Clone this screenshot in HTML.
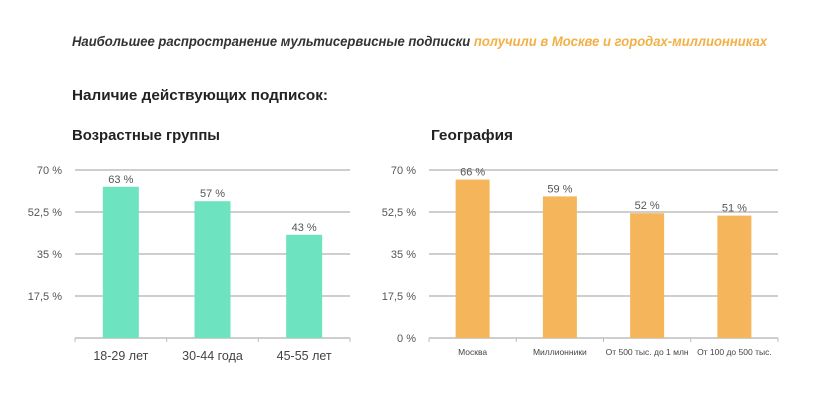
<!DOCTYPE html>
<html><head><meta charset="utf-8"><style>
body{margin:0;background:#fff;}
svg{display:block;font-family:"Liberation Sans","Noto Sans CJK SC",sans-serif;}
</style></head><body>
<svg id="chart" width="840" height="413" viewBox="0 0 840 413">
<text x="72" y="46" font-size="14" font-weight="bold" font-style="italic" fill="#333" textLength="695" lengthAdjust="spacingAndGlyphs">Наибольшее распространение мультисервисные подписки <tspan fill="#f2b045">получили в Москве и городах-миллионниках</tspan></text>
<text x="72" y="100" font-size="15" font-weight="bold" fill="#222" textLength="256" lengthAdjust="spacingAndGlyphs">Наличие действующих подписок:</text>
<text x="72" y="140" font-size="15" font-weight="bold" fill="#222" textLength="148" lengthAdjust="spacingAndGlyphs">Возрастные группы</text>
<text x="431" y="140" font-size="15" font-weight="bold" fill="#222" textLength="82" lengthAdjust="spacingAndGlyphs">География</text>
<g id="left"></g><g id="right"></g>
</svg>
<script>
const ageCategories=["18-29 лет","30-44 года","45-55 лет"];
const ageValues=[63,57,43];
const geoCategories=["Москва","Миллионники","От 500 тыс. до 1 млн","От 100 до 500 тыс."];
const geoValues=[66,59,52,51];
const tickValues=[0,17.5,35,52.5,70];
const tickLabels=["0 %","17,5 %","35 %","52,5 %","70 %"];
const NS="http://www.w3.org/2000/svg";
function mk(tag,attrs,parent){const e=document.createElementNS(NS,tag);for(const k in attrs)e.setAttribute(k,attrs[k]);parent.appendChild(e);return e;}
function draw(g,cfg,cats,vals){
  const y=v=>cfg.y0-(v/70)*(cfg.y0-cfg.y1);
  const band=(cfg.x1-cfg.x0)/cats.length;
  const x=i=>cfg.x0+band*(i+0.5);
  tickValues.forEach((t,i)=>{
    if(t===0&&!cfg.showZero){}else{
      const lb=mk("text",{x:cfg.x0-13,y:y(t)+4,"font-size":11,fill:"#555","text-anchor":"end"},g);
      
      
      lb.textContent=tickLabels[i];}
    if(t>0){const l=mk("line",{x1:cfg.x0,x2:cfg.x1,y1:y(t),y2:y(t),stroke:"#bdbdbd","stroke-width":1.5},g);
      
      }
  });
  const ax=mk("line",{x1:cfg.x0,x2:cfg.x1,y1:cfg.y0,y2:cfg.y0,stroke:"#bdbdbd","stroke-width":1.5},g);
  
  
  for(let i=0;i<=cats.length;i++){const tk=mk("line",{x1:cfg.x0+band*i,x2:cfg.x0+band*i,y1:cfg.y0,y2:cfg.y0+4,stroke:"#bdbdbd"},g);
    
    }
  cats.forEach((c,i)=>{
    const b=mk("rect",{x:x(i)-cfg.bw/2,y:y(vals[i]),width:cfg.bw,height:cfg.y0-y(vals[i]),fill:cfg.color},g);
    
    
    const v=mk("text",{x:x(i),y:y(vals[i])-4,"font-size":11,fill:"#555","text-anchor":"middle"},g);
    
    
    v.textContent=vals[i]+" %";
    const cl=mk("text",{x:x(i),y:cfg.y0+cfg.labOff,"font-size":cfg.catSize,fill:"#444","text-anchor":"middle"},g);
    
    
    cl.textContent=c;
  });
}
draw(document.getElementById("left"),{x0:75,x1:350,y0:338,y1:170,bw:36,color:"#6de3bf",showZero:false,labOff:22,catSize:12.5},ageCategories,ageValues);
draw(document.getElementById("right"),{x0:429,x1:778,y0:338,y1:170,bw:34,color:"#f5b65b",showZero:true,labOff:17,catSize:8.5},geoCategories,geoValues);
</script>
</body></html>
